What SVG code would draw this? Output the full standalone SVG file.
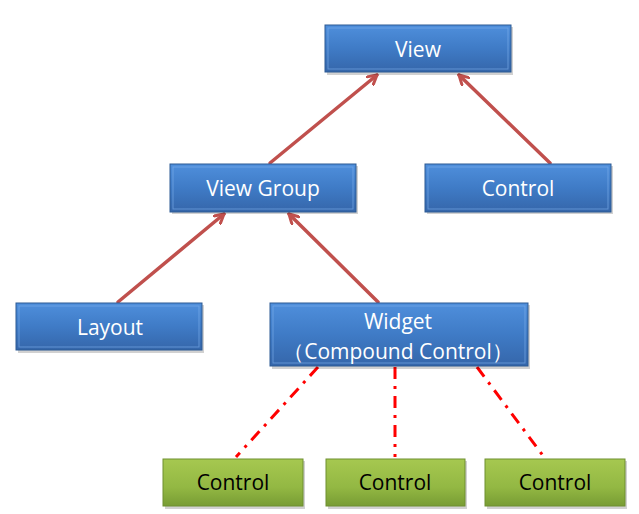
<svg xmlns="http://www.w3.org/2000/svg" width="639" height="514" viewBox="0 0 639 514">
<defs>
<linearGradient id="gb" x1="0" y1="0" x2="0" y2="1">
<stop offset="0" stop-color="#4f8fdc"/>
<stop offset="0.5" stop-color="#3f7bc6"/>
<stop offset="1" stop-color="#3566aa"/>
</linearGradient>
<linearGradient id="gg" x1="0" y1="0" x2="0" y2="1">
<stop offset="0" stop-color="#a6c850"/>
<stop offset="0.6" stop-color="#93b843"/>
<stop offset="1" stop-color="#789c34"/>
</linearGradient>
<marker id="ah" viewBox="0 0 12 12" refX="10" refY="6" markerWidth="12" markerHeight="12" markerUnits="userSpaceOnUse" orient="auto">
<path d="M1,1 L10,6 L1,11" fill="none" stroke="#c0504d" stroke-width="3" stroke-linecap="round" stroke-linejoin="round"/>
</marker>
</defs>
<style>
.blue{fill:url(#gb);stroke:#2c5a93;stroke-width:1}
.green{fill:url(#gg);stroke:#6f8f30;stroke-width:1}
.shadow{fill:#000;opacity:0.18}
.bevel{fill:none;stroke:#7fb0ec;stroke-width:1;opacity:0.6}
.tw{font-family:"Open Sans","Liberation Sans",Arial,sans-serif;font-size:21px;fill:#fff;text-anchor:middle}
.tk{font-family:"Open Sans","Liberation Sans",Arial,sans-serif;font-size:21px;fill:#000;text-anchor:middle}
.arr{stroke:#c0504d;stroke-width:3.5;fill:none;stroke-linecap:round}
.dash{stroke:#ff0000;stroke-width:3;fill:none;stroke-dasharray:12,7,3,7}
</style>
<g id="connectors">
<line class="arr" x1="270" y1="163" x2="377" y2="75" marker-end="url(#ah)"/>
<line class="arr" x1="550" y1="163" x2="459" y2="75" marker-end="url(#ah)"/>
<line class="arr" x1="118" y1="302" x2="224" y2="214" marker-end="url(#ah)"/>
<line class="arr" x1="378" y1="302" x2="289" y2="214" marker-end="url(#ah)"/>
<line class="dash" x1="318" y1="367" x2="236" y2="457"/>
<line class="dash" x1="395" y1="367" x2="395" y2="457"/>
<line class="dash" x1="477" y1="367" x2="544" y2="457"/>
</g>
<g id="view">
<rect class="shadow" x="327" y="27" width="186" height="48"/>
<rect class="blue" x="325" y="25" width="186" height="47"/>
<rect class="bevel" x="328" y="28" width="180" height="41"/>
<text class="tw" x="418" y="57">View</text>
</g>
<g id="viewgroup">
<rect class="shadow" x="172" y="166" width="186" height="48"/>
<rect class="blue" x="170" y="164" width="186" height="48"/>
<rect class="bevel" x="173" y="167" width="180" height="42"/>
<text class="tw" x="263" y="196">View Group</text>
</g>
<g id="control-top">
<rect class="shadow" x="427" y="166" width="186" height="48"/>
<rect class="blue" x="425" y="164" width="186" height="48"/>
<rect class="bevel" x="428" y="167" width="180" height="42"/>
<text class="tw" x="518" y="196">Control</text>
</g>
<g id="layout">
<rect class="shadow" x="18" y="305" width="186" height="48"/>
<rect class="blue" x="16" y="303" width="186" height="47"/>
<rect class="bevel" x="19" y="306" width="180" height="41"/>
<text class="tw" x="110" y="335">Layout</text>
</g>
<g id="widget">
<rect class="shadow" x="272" y="305" width="258" height="64"/>
<rect class="blue" x="270" y="303" width="258" height="63"/>
<rect class="bevel" x="273" y="306" width="252" height="57"/>
<text class="tw" x="398" y="329">Widget</text>
<text class="tw" x="398" y="359">（Compound Control）</text>
</g>
<g id="control1">
<rect class="shadow" x="165" y="461" width="140" height="48"/>
<rect class="green" x="163" y="459" width="140" height="47"/>
<text class="tk" x="233" y="490">Control</text>
</g>
<g id="control2">
<rect class="shadow" x="328" y="461" width="139" height="48"/>
<rect class="green" x="326" y="459" width="139" height="47"/>
<text class="tk" x="395" y="490">Control</text>
</g>
<g id="control3">
<rect class="shadow" x="487" y="461" width="140" height="48"/>
<rect class="green" x="485" y="459" width="140" height="47"/>
<text class="tk" x="555" y="490">Control</text>
</g>
</svg>
